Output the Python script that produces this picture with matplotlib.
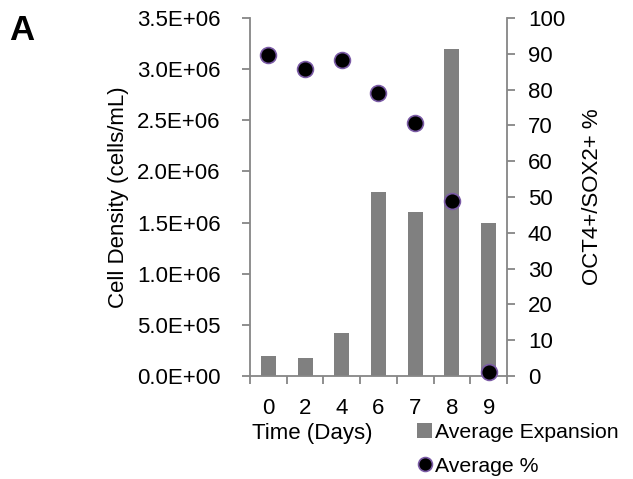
import matplotlib
matplotlib.use("Agg")
import matplotlib.pyplot as plt
from matplotlib.lines import Line2D
from matplotlib.patches import Patch
import numpy as np

plt.rcParams['font.family'] = ['Liberation Sans', 'DejaVu Sans']

days = ["0", "2", "4", "6", "7", "8", "9"]
expansion = [2.0e5, 1.8e5, 4.2e5, 1.8e6, 1.6e6, 3.2e6, 1.5e6]
percent = [89.7, 85.7, 88.2, 79.1, 70.7, 48.8, 1.0]
left_ticks = [0, 5e5, 1e6, 1.5e6, 2e6, 2.5e6, 3e6, 3.5e6]
left_labels = ["0.0E+00", "5.0E+05", "1.0E+06", "1.5E+06", "2.0E+06", "2.5E+06", "3.0E+06", "3.5E+06"]
right_ticks = [0, 10, 20, 30, 40, 50, 60, 70, 80, 90, 100]

gray = "#808080"
axcol = "#868686"
fs = 16

fig = plt.figure(figsize=(6.33, 4.79), dpi=100)
ax = fig.add_axes([250/633, 1-376/479, (507-250)/633, (376-18)/479])
x = np.arange(len(days))
ax.bar(x, expansion, width=0.41, color=gray, zorder=2)
ax.set_xlim(-0.5, len(days)-0.5)
ax.set_ylim(0, 3.5e6)
ax.set_yticks(left_ticks)
ax.set_yticklabels(left_labels)
ax.set_xticks(x)
ax.set_xticklabels(days)
ax.set_xticks(np.arange(len(days)+1)-0.5, minor=True)
ax.tick_params(axis='x', which='major', length=0, pad=16, labelsize=fs)
ax.tick_params(axis='x', which='minor', length=6, color=axcol, width=1.3, direction='out')
ax.tick_params(axis='y', length=6, color=axcol, width=1.3, labelsize=fs, pad=15)
for s in ['top', 'right']:
    ax.spines[s].set_visible(False)
for s in ['left', 'bottom']:
    ax.spines[s].set_color(axcol)
    ax.spines[s].set_linewidth(1.3)
ax.set_ylabel("Cell Density (cells/mL)", fontsize=fs, labelpad=6)

ax2 = ax.twinx()
ax2.scatter(x, percent, s=130, color="black", edgecolors="#7B5BA6", linewidths=1.2, zorder=5, clip_on=False)
ax2.set_ylim(0, 100)
ax2.set_yticks(right_ticks)
ax2.tick_params(axis='y', length=6, color=axcol, width=1.3, labelsize=fs, pad=9)
for s in ['top', 'left', 'bottom']:
    ax2.spines[s].set_visible(False)
ax2.spines['right'].set_color(axcol)
ax2.spines['right'].set_linewidth(1.3)
ax2.set_ylabel("OCT4+/SOX2+ %", fontsize=fs, labelpad=12)

fig.text(312/633, 1-434/479, "Time (Days)", fontsize=fs, ha='center', va='center')
fig.text(9/633, 1-30/479, "A", fontsize=25, fontweight='bold', ha='left', va='center')

handles = [Patch(facecolor=gray, edgecolor='none'),
           Line2D([], [], marker='o', linestyle='none', markersize=10, markerfacecolor='black',
                  markeredgecolor="#7B5BA6", markeredgewidth=1.2)]
leg = fig.legend(handles, ["Average Expansion", "Average %"], loc='upper left',
                 bbox_to_anchor=(417/633, 1-423/479), frameon=False, fontsize=15.3,
                 handlelength=0.72, handleheight=0.72, handletextpad=0.12, labelspacing=0.7,
                 borderpad=0, borderaxespad=0)

fig.savefig("out.png", dpi=100)
